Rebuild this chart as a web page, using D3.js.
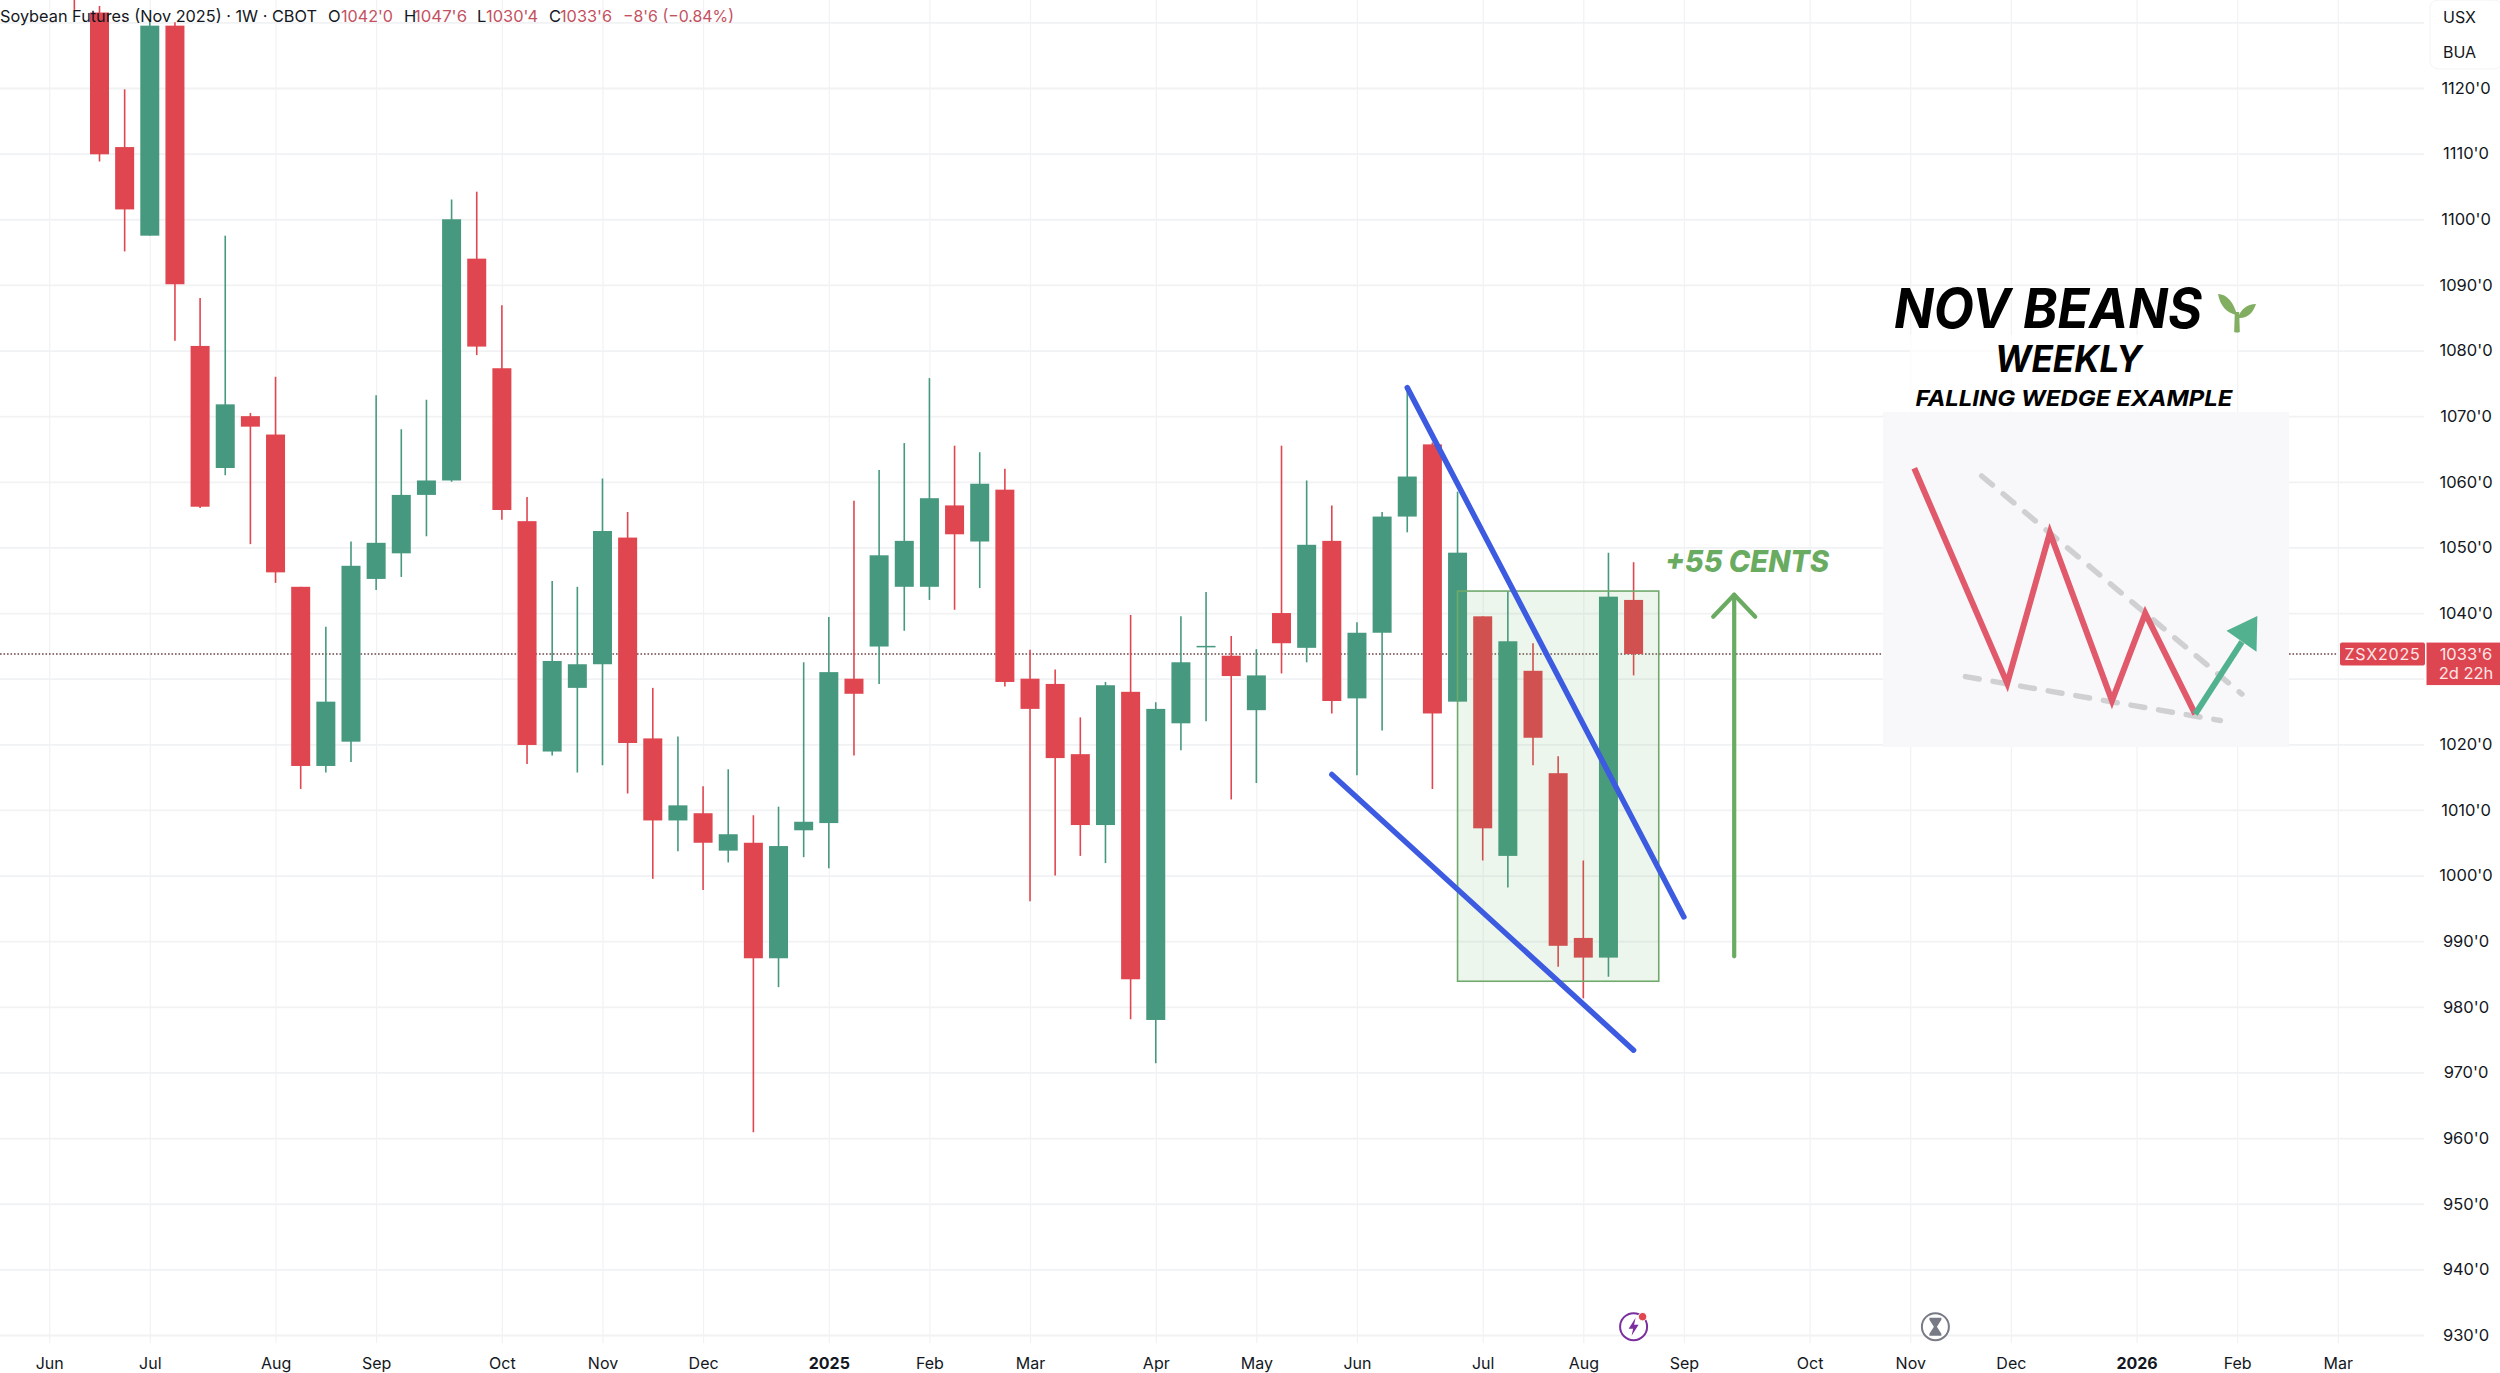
<!DOCTYPE html>
<html><head><meta charset="utf-8">
<script src="https://cdn.jsdelivr.net/npm/d3@7/dist/d3.min.js"></script>
<style>html,body{margin:0;padding:0;background:#fff;overflow:hidden}svg{display:block}text{font-family:Inter,"Noto Sans",sans-serif}</style>
</head><body><svg id="c" width="2500" height="1373"></svg>
<script>
// Weekly candles, one per Monday from 10 Jun 2024 to 18 Aug 2025
const opens=[1160,1131.5,1111,1097.5,1129.5,1080.7,1062.1,1070,1067.2,1044,1016.7,1020.4,1045.2,1049.1,1058,1060.2,1094,1077.3,1054,1018.9,1028.6,1032.2,1051.5,1020.9,1008.4,1009.5,1003.8,1005,987.4,1006.9,1008,1030,1034.9,1044,1044,1056.4,1050.9,1058.8,1030,1029.2,1018.5,1007.7,1028,978,1023.2,1034.9,1033.5,1025.2,1040,1034.7,1051,1027,1037,1054.7,1065.7,1026.5,1039.5,1003,1031.2,1015.6,990.5,987.5,1042];
const highs=[1170,1132.5,1119.8,1130.5,1130,1088,1097.5,1070.5,1076,1044,1037.9,1050.9,1073.2,1068,1072.5,1103,1104.2,1086.9,1057.7,1044.9,1044,1060.5,1055.4,1028.6,1021.2,1013.6,1016.2,1009.2,1010.5,1032.5,1039.4,1057.1,1061.8,1065.9,1075.8,1065.5,1064.5,1062,1034.4,1031.4,1024.1,1029.5,1039.7,1026.4,1039.5,1043.2,1036.5,1034.5,1065.5,1060.2,1056.4,1038.6,1055.4,1074.4,1066,1058.5,1039.5,1043.3,1035.4,1018.2,1002.3,1049.2,1047.75];
const lows=[1131.9,1108.8,1095.1,1097.5,1081.5,1056,1061,1050.5,1044.6,1013.2,1015.7,1017.3,1043.5,1045.5,1051.7,1060,1079.3,1054.2,1017,1018.3,1015.7,1016.8,1012.5,999.5,1003.7,997.8,1002,960.9,983,1002.8,1001.1,1018.3,1029.2,1037.3,1042,1040.5,1043.8,1028.8,996.1,1000,1003,1001.9,978.1,971.4,1019.1,1023.5,1011.6,1014.1,1030.8,1032.5,1024.7,1015.3,1022.1,1052.3,1013.2,1026.5,1002.3,998.2,1016.8,986.1,981.3,984.6,1030.5];
const closes=[1145,1109.9,1101.5,1129.5,1090.1,1056.2,1071.8,1068.4,1046.2,1016.7,1026.5,1047.2,1050.7,1058,1060.2,1100,1080.6,1055.7,1019.9,1032.7,1032.2,1052.5,1020.2,1008.4,1010.7,1005,1006.3,987.4,1004.5,1008.2,1031,1027.7,1048.8,1051,1057.5,1052,1059.7,1029.5,1025.4,1017.9,1007.7,1029,984.2,1025.4,1032.5,1035,1030.4,1030.5,1035.4,1050.4,1026.6,1037,1054.7,1060.8,1024.7,1049.2,1007.2,1035.7,1021,989.3,987.5,1042.5,1033.75];
const priceTicks=[1120,1110,1100,1090,1080,1070,1060,1050,1040,1030,1020,1010,1000,990,980,970,960,950,940,930];
const lastPrice=1033.75;
const headerSpans=[["Soybean Futures (Nov 2025) · 1W · CBOT",0,317,0],["O",328,0,0],["1042'0",341,52,1],["H",404,0,0],["1047'6",414,53,1],["L",477,0,0],["1030'4",486,52,1],["C",549,0,0],["1033'6",560,52,1],["−8'6 (−0.84%)",623,111,1]];
const wedgeUpper=[["2025-06-16",1074.35],["2025-09-01",993.7]];
const wedgeLower=[["2025-05-26",1015.4],["2025-08-18",973.4]];
const boxCorners=[["2025-06-30",1043.35],["2025-08-25",983.9]];
const gainArrow=[["2025-09-15",987.7],["2025-09-15",1042.8]];
const sketchZigzag=[[7.7,16.8],[30.6,81],[41.1,36],[56.4,86.2],[64.6,60.1],[76.9,90.2]];
const sketchBreakout=[[76.9,90.2],[88.4,68.6]];
const sketchHead=[[92.2,60.9],[84.6,65.3],[92,71.6]];
const sketchUpper=[[24.3,19.1],[88.4,84.2]];
const sketchLower=[[20.3,79],[83.1,92.1]];

const RED="#e0464f",GREEN="#46997f",INK="#131722",GRID="#f1f2f4";
const FIRST=new Date(Date.UTC(2024,5,10));
const dates=d3.utcMonday.range(FIRST,d3.utcDay.offset(FIRST,opens.length*7));
const pd=s=>new Date(s+"T00:00:00Z");
const svg=d3.select("#c");
const x=d3.scaleUtc().domain([dates[0],dates[dates.length-1]]).range([74.35,1633.6]);
const y=d3.scaleLinear().domain([1120,930]).range([88,1335]);
const insetX=d3.scaleLinear().domain([0,100]).range([1883,2289]);
const insetY=d3.scaleLinear().domain([0,100]).range([412,747]);
const PANE=2424;
svg.append("defs").append("clipPath").attr("id","pane").append("rect").attr("x",0).attr("y",0).attr("width",PANE).attr("height",1343);

// month ticks: first Monday of each month
const monthTicks=d3.utcMonday.range(pd("2024-06-01"),pd("2026-03-10")).filter(d=>d.getUTCDate()<=7);
const fmtTick=d=>d.getUTCMonth()===0?d3.utcFormat("%Y")(d):d3.utcFormat("%b")(d);

const xGrid=svg.append("g").attr("transform","translate(0,1343)")
 .call(d3.axisBottom(x).tickValues(monthTicks).tickSize(-1343).tickFormat(""));
xGrid.select(".domain").remove();
xGrid.selectAll("text").remove();
xGrid.selectAll("line").attr("stroke",GRID).attr("stroke-width",1.2);

const yGrid=svg.append("g").call(d3.axisRight(y).tickValues([1130,...priceTicks]).tickSize(PANE).tickFormat(""));
yGrid.select(".domain").remove();
yGrid.selectAll("text").remove();
yGrid.selectAll("line").attr("stroke",GRID).attr("stroke-width",1.8);

// dotted last price line
svg.append("line").attr("x1",0).attr("x2",2338).attr("y1",y(lastPrice)).attr("y2",y(lastPrice))
 .attr("stroke","#6e4548").attr("stroke-width",1.4).attr("stroke-dasharray","1.6 1.9");

// candles
const rows=dates.map((d,i)=>({d,o:opens[i],h:highs[i],l:lows[i],c:closes[i]}));
const col=r=>r.c>=r.o?GREEN:RED;
const cg=svg.append("g").attr("clip-path","url(#pane)");
cg.selectAll("line.w").data(rows).join("line").attr("class","w")
 .attr("x1",r=>x(r.d)).attr("x2",r=>x(r.d)).attr("y1",r=>y(r.h)).attr("y2",r=>y(r.l))
 .attr("stroke",col).attr("stroke-width",1.6);
cg.selectAll("rect.b").data(rows).join("rect").attr("class","b")
 .attr("x",r=>x(r.d)-9.5).attr("width",19)
 .attr("y",r=>y(Math.max(r.o,r.c)))
 .attr("height",r=>Math.max(1.5,y(Math.min(r.o,r.c))-y(Math.max(r.o,r.c))))
 .attr("fill",col);

// green box
const bx0=x(pd(boxCorners[0][0])),bx1=x(pd(boxCorners[1][0])),by0=y(boxCorners[0][1]),by1=y(boxCorners[1][1]);
svg.append("rect").attr("x",bx0).attr("y",by0).attr("width",bx1-bx0).attr("height",by1-by0)
 .attr("fill","rgba(91,170,90,0.11)").attr("stroke","#6fa96c").attr("stroke-width",1.6);

// wedge lines
const priceLine=d3.line().x(p=>x(pd(p[0]))).y(p=>y(p[1]));
[wedgeUpper,wedgeLower].forEach(l=>svg.append("path").attr("d",priceLine(l)).attr("fill","none")
 .attr("stroke","#3c5be0").attr("stroke-width",5.5).attr("stroke-linecap","round"));

// gain arrow
svg.append("path").attr("d",priceLine(gainArrow)).attr("fill","none").attr("stroke","#69ab60").attr("stroke-width",4.2).attr("stroke-linecap","round");
const ax=x(pd(gainArrow[1][0])),ay=y(gainArrow[1][1]);
svg.append("path").attr("d",`M${ax-21},${ay+22}L${ax},${ay}L${ax+21},${ay+22}`).attr("fill","none")
 .attr("stroke","#69ab60").attr("stroke-width",4.2).attr("stroke-linecap","round").attr("stroke-linejoin","round");
svg.append("text").attr("x",1665).attr("y",572).attr("font-size",30).attr("font-weight",800).attr("font-style","italic")
 .attr("fill","#69ab60").attr("textLength",164).attr("lengthAdjust","spacingAndGlyphs").text("+55 CENTS");

// veil behind the lower headings
svg.append("rect").attr("x",1910).attr("y",335).attr("width",327).attr("height",77).attr("fill","#fff").attr("opacity",0.7);
// headings
const heads=[["NOV BEANS",1894,328.3,55,308],["WEEKLY",1995,371.7,36.5,147],["FALLING WEDGE EXAMPLE",1915.5,406,22,317]];
heads.forEach(h=>svg.append("text").attr("x",h[1]).attr("y",h[2]).attr("font-size",h[3]).attr("font-weight",700).attr("font-style","italic")
 .attr("fill","#000").attr("textLength",h[4]).attr("lengthAdjust","spacingAndGlyphs").text(h[0]));
// sprout
const sp=svg.append("g").attr("transform","translate(2237,315)").attr("fill","#82ae62");
sp.append("path").attr("d","M-2.8,17 L-2.2,-3 L2.2,-3 L2.8,17 Q0,18 -2.8,17 Z");
sp.append("path").attr("d","M0,0 C-3,-12 -10,-21 -19,-21 C-17,-10 -11,-2 0,0 Z");
sp.append("path").attr("d","M1,3 C3,-5 10,-11 19,-11 C16,-2 10,4 1,3 Z");

// inset sketch
svg.append("rect").attr("x",insetX(0)).attr("y",insetY(0)).attr("width",insetX(100)-insetX(0)).attr("height",insetY(100)-insetY(0)).attr("fill","#f8f8fb");
const sketch=d3.line().x(p=>insetX(p[0])).y(p=>insetY(p[1]));
[sketchUpper,sketchLower].forEach(l=>svg.append("path").attr("d",sketch(l)).attr("fill","none").attr("stroke","#d0d0d3")
 .attr("stroke-width",5.5).attr("stroke-linecap","round").attr("stroke-dasharray","14 14"));
svg.append("path").attr("d",sketch(sketchZigzag)).attr("fill","none").attr("stroke","#e15a6b").attr("stroke-width",6).attr("stroke-linejoin","miter");
svg.append("path").attr("d",sketch(sketchBreakout)).attr("fill","none").attr("stroke","#52b28f").attr("stroke-width",6);
svg.append("path").attr("d",sketch(sketchHead)+"Z").attr("fill","#52b28f");

// y labels
const yAxis=svg.append("g").attr("transform","translate(2466,0)")
 .call(d3.axisRight(y).tickValues(priceTicks).tickSize(0).tickPadding(0).tickFormat(p=>p+"'0"));
yAxis.select(".domain").remove();
yAxis.selectAll("text").attr("text-anchor","middle").attr("font-family","Inter").attr("font-size",16.5).attr("fill",INK);

// x labels
const xAxis=svg.append("g").attr("transform","translate(0,1363)")
 .call(d3.axisBottom(x).tickValues(monthTicks).tickSize(0).tickPadding(0).tickFormat(fmtTick));
xAxis.select(".domain").remove();
xAxis.selectAll("text").attr("y",0).attr("dy","0.36em").attr("font-family","Inter").attr("font-size",16).attr("fill",INK)
 .attr("font-weight",d=>d.getUTCMonth()===0?700:400);

// header
headerSpans.forEach(s=>{const t=svg.append("text").attr("x",s[1]).attr("y",22).attr("font-size",16.5).attr("fill",s[3]?"#c4515f":INK).text(s[0]);
 if(s[2])t.attr("textLength",s[2]).attr("lengthAdjust","spacingAndGlyphs");});

// unit box
svg.append("rect").attr("x",2430).attr("y",0).attr("width",72).attr("height",69).attr("rx",8).attr("fill","#fff").attr("stroke","#f4f4f6");
[["USX",23],["BUA",58]].forEach(u=>svg.append("text").attr("x",2443).attr("y",u[1]).attr("font-size",16).attr("fill",INK).text(u[0]));

// price tags
const tagY=y(lastPrice);
svg.append("rect").attr("x",2340).attr("y",tagY-11.5).attr("width",85).attr("height",23).attr("rx",2).attr("fill","#dd4550");
svg.append("rect").attr("x",2426.5).attr("y",tagY-11.5).attr("width",73.5).attr("height",42.5).attr("fill","#dd4550");
svg.append("text").attr("x",2382.5).attr("y",tagY+5.6).attr("text-anchor","middle").attr("font-size",16).attr("fill","#ffe6e6").attr("letter-spacing",0.8).text("ZSX2025");
svg.append("text").attr("x",2466).attr("y",tagY+5.6).attr("text-anchor","middle").attr("font-size",16.5).attr("fill","#ffe6e6").text("1033'6");
svg.append("text").attr("x",2466).attr("y",tagY+25).attr("text-anchor","middle").attr("font-size",16.5).attr("fill","#ffe6e6").text("2d 22h");

// event icons
const e1=svg.append("g").attr("transform",`translate(${x(pd("2025-08-18"))},1326.7)`);
e1.append("circle").attr("r",13.5).attr("fill","#fff").attr("stroke","#7b2f9e").attr("stroke-width",2);
e1.append("path").attr("d","M2,-9 L-5,2 L-0.5,2 L-2,9 L5,-2 L0.5,-2 Z").attr("fill","#7b2f9e");
e1.append("circle").attr("cx",9).attr("cy",-10).attr("r",4.2).attr("fill","#e0464f").attr("stroke","#fff").attr("stroke-width",1);
const e2=svg.append("g").attr("transform",`translate(${x(pd("2025-11-10"))},1326.7)`);
e2.append("circle").attr("r",13.5).attr("fill","#fff").attr("stroke","#787b86").attr("stroke-width",2);
e2.append("path").attr("d","M-6,-9 H6 V-7 L1.5,0 L6,7 V9 H-6 V7 L-1.5,0 L-6,-7 Z").attr("fill","#787b86");
</script></body></html>
